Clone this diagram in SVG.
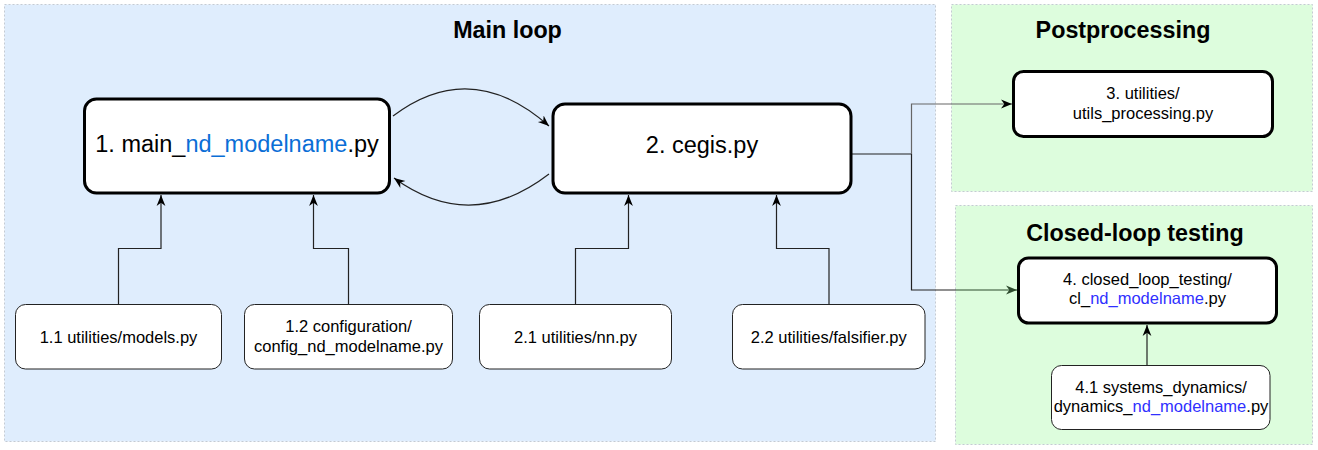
<svg xmlns="http://www.w3.org/2000/svg" width="1318" height="450" viewBox="0 0 1318 450">
<style>
text{font-family:"Liberation Sans",Arial,Helvetica,sans-serif;fill:#000;text-anchor:middle}
.title{font-weight:bold;font-size:23.3px}
.big{font-size:23.5px}
.sm{font-size:16.5px}
.cont{stroke:#c4cbd3;stroke-width:1;stroke-dasharray:2 2}
.main{fill:#fff;stroke:#000;stroke-width:3}
.sub{fill:#fff;stroke:#222;stroke-width:1}
.edge{fill:none;stroke:#222;stroke-width:1.2}
.blue1{fill:#0a6ed6}
.blue2{fill:#3030ff}
</style>
<defs>
<marker id="arr" viewBox="0 0 10 10" markerWidth="11" markerHeight="11" refX="10" refY="5" orient="auto" markerUnits="userSpaceOnUse">
<path d="M0,1 L10,5 L0,9 L3,5 Z" fill="#000"/>
</marker>
<marker id="arrg" viewBox="0 0 10 10" markerWidth="11" markerHeight="11" refX="10" refY="5" orient="auto" markerUnits="userSpaceOnUse">
<path d="M0,1 L10,5 L0,9 L3,5 Z" fill="#2d4a2d"/>
</marker>
</defs>
<g id="containers">
<g id="main-loop"><rect class="cont" x="4.5" y="4.5" width="931" height="437" fill="#dfedfd"/><text class="title" x="507.5" y="38">Main loop</text></g>
<g id="postprocessing"><rect class="cont" x="951.5" y="4.5" width="361" height="187" fill="#ddfddd"/><text class="title" x="1123" y="38">Postprocessing</text></g>
<g id="closed-loop"><rect class="cont" x="955.5" y="205.5" width="357" height="239" fill="#ddfddd"/><text class="title" x="1135" y="240.5">Closed-loop testing</text></g>
</g>
<g id="connectors">
<path class="edge" d="M393,116 Q471,57 549,126" marker-end="url(#arr)"/>
<path class="edge" d="M549,174 Q471,234 394,178" marker-end="url(#arr)"/>
<path class="edge" d="M118.5,304 V248.5 H161 V195" marker-end="url(#arr)"/>
<path class="edge" d="M348.5,304 V248.5 H313.5 V195" marker-end="url(#arr)"/>
<path class="edge" d="M575.5,304 V248.5 H628.5 V195" marker-end="url(#arr)"/>
<path class="edge" d="M829,304 V248.5 H776.5 V195" marker-end="url(#arr)"/>
<path class="edge" d="M851,154 H911.5"/>
<path class="edge" style="stroke:#666" d="M911.5,154 V104 H1012" marker-end="url(#arr)"/>
<path class="edge" d="M911.5,154 V290 H956"/>
<path class="edge" style="stroke:#2d4a2d" d="M956,290 H1017" marker-end="url(#arrg)"/>
<path class="edge" d="M1147,365 V325" marker-end="url(#arr)"/>
</g>
<g id="node1"><rect class="main" x="84.5" y="99" width="305" height="94" rx="12"/><text class="big" x="237" y="152">1. main_<tspan class="blue1">nd_modelname</tspan>.py</text></g>
<g id="node2"><rect class="main" x="553" y="104" width="298" height="89" rx="12"/><text class="big" x="702" y="153">2. cegis.py</text></g>
<g id="node3"><rect class="main" x="1013.5" y="71.5" width="259" height="65" rx="10"/><text class="sm" x="1143" y="98.5">3. utilities/</text><text class="sm" x="1143" y="118.5">utils_processing.py</text></g>
<g id="node4"><rect class="main" x="1018.5" y="258" width="258" height="65" rx="10"/><text class="sm" x="1147.5" y="285">4. closed_loop_testing/</text><text class="sm" x="1147.5" y="304">cl_<tspan class="blue2">nd_modelname</tspan>.py</text></g>
<g id="node4-1"><rect class="sub" x="1051.5" y="365.5" width="218.5" height="64" rx="10"/><text class="sm" x="1161" y="392.5">4.1 systems_dynamics/</text><text class="sm" x="1161" y="412">dynamics_<tspan class="blue2">nd_modelname</tspan>.py</text></g>
<g id="node1-1"><rect class="sub" x="15.5" y="304.5" width="206" height="64.5" rx="10"/><text class="sm" x="118.5" y="342.5">1.1 utilities/models.py</text></g>
<g id="node1-2"><rect class="sub" x="244.5" y="304.5" width="208" height="64.5" rx="10"/><text class="sm" x="348.5" y="331.5">1.2 configuration/</text><text class="sm" x="348.5" y="351.5">config_nd_modelname.py</text></g>
<g id="node2-1"><rect class="sub" x="479.5" y="304.5" width="192" height="64.5" rx="10"/><text class="sm" x="575.5" y="342.5">2.1 utilities/nn.py</text></g>
<g id="node2-2"><rect class="sub" x="732.5" y="304.5" width="192.5" height="64.5" rx="10"/><text class="sm" x="828.7" y="342.5">2.2 utilities/falsifier.py</text></g>
</svg>
